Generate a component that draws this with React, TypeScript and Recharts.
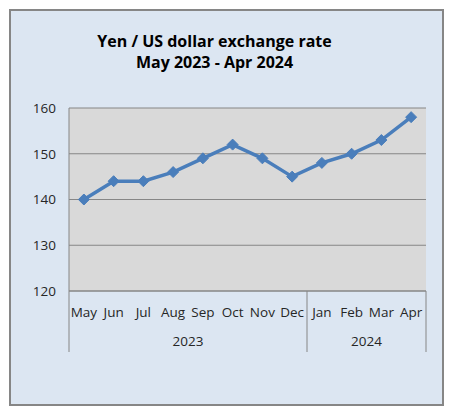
import { LineChart, Line, XAxis, YAxis, CartesianGrid } from 'recharts';

const months = ['May', 'Jun', 'Jul', 'Aug', 'Sep', 'Oct', 'Nov', 'Dec', 'Jan', 'Feb', 'Mar', 'Apr'];
const years = ['2023', '2023', '2023', '2023', '2023', '2023', '2023', '2023', '2024', '2024', '2024', '2024'];
const rates = [140, 144, 144, 146, 149, 152, 149, 145, 148, 150, 153, 158];
const yTicks = [120, 130, 140, 150, 160];

const data = months.map((m, i) => ({ month: m, year: years[i], rate: rates[i] }));

const W = 438;
const H = 400;
const margin = { top: 100, right: 20, bottom: 47, left: 0 };
const yAxisW = 61;
const plotW = W - margin.left - margin.right - yAxisW;
const half = plotW / months.length / 2;

const FONT = '"Open Sans", sans-serif';
const TEXT = '#262626';
const GRID = '#868686';

// month label + the second level (year groups) like excel's multi-level axis
const MonthTick = (props: any) => {
  const { x, y, payload } = props;
  const i = props.index ?? payload.index;
  const yr = years[i];
  const first = i === 0 || years[i - 1] !== yr;
  const last = i === months.length - 1;
  const count = years.filter((v) => v === yr).length;
  const left = x - half;
  return (
    <g>
      <text x={x} y={y + 26} textAnchor="middle" fontFamily={FONT} fontSize={13.5} fill={TEXT}>
        {payload.value}
      </text>
      {first && <line x1={left} x2={left} y1={y} y2={y + 61} stroke={GRID} />}
      {first && (
        <text x={left + count * half} y={y + 55} textAnchor="middle" fontFamily={FONT} fontSize={13.5} fill={TEXT}>
          {yr}
        </text>
      )}
      {last && <line x1={x + half} x2={x + half} y1={y} y2={y + 61} stroke={GRID} />}
    </g>
  );
};

const Diamond = (props: any) => {
  const { cx, cy } = props;
  if (cx == null || cy == null) return null;
  const r = 5.5;
  return (
    <polygon
      points={`${cx},${cy - r} ${cx + r},${cy} ${cx},${cy + r} ${cx - r},${cy}`}
      fill="#4a7ebb"
      stroke="#4a7ebb"
    />
  );
};

const App = () => (
  <div style={{ position: 'relative', width: W, height: H }}>
    <div
      style={{
        position: 'absolute',
        left: 1,
        top: 1,
        width: 431,
        height: 393,
        border: '2px solid #868686',
        background: '#dce6f2',
      }}
    />
    <div
      style={{
        position: 'absolute',
        left: 56,
        top: 23,
        width: 301,
        textAlign: 'center',
        fontFamily: FONT,
        fontWeight: 'bold',
        fontSize: 16,
        lineHeight: '21px',
        color: '#000',
      }}
    >
      Yen / US dollar exchange rate
      <br />
      May 2023 - Apr 2024
    </div>
    <div style={{ position: 'absolute', left: 0, top: 0 }}>
      <LineChart width={W} height={H} data={data} margin={margin}>
        <CartesianGrid vertical={false} stroke={GRID} fill="#d9d9d9" fillOpacity={1} />
        <XAxis
          dataKey="month"
          interval={0}
          padding={{ left: half, right: half }}
          tickLine={false}
          tickSize={0}
          tickMargin={0}
          height={70}
          axisLine={{ stroke: GRID }}
          tick={<MonthTick />}
        />
        <YAxis
          width={yAxisW}
          domain={[120, 160]}
          ticks={yTicks}
          interval={0}
          tickLine={false}
          tickSize={6}
          tickMargin={7}
          axisLine={{ stroke: GRID }}
          tick={{ fontFamily: FONT, fontSize: 13.5, fill: TEXT }}
        />
        <Line
          dataKey="rate"
          stroke="#4a7ebb"
          strokeWidth={3.5}
          dot={<Diamond />}
          activeDot={false}
          isAnimationActive={false}
        />
      </LineChart>
    </div>
  </div>
);

export default App;
